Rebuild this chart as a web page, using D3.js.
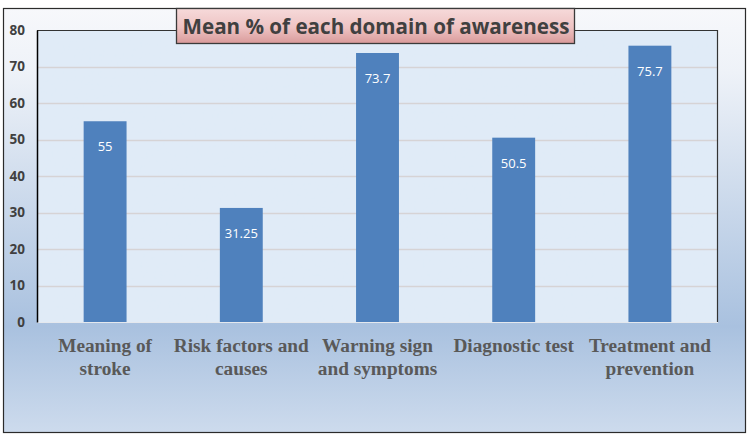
<!DOCTYPE html>
<html><head><meta charset="utf-8">
<script src="https://cdn.jsdelivr.net/npm/d3@7"></script>
<style>html,body{margin:0;padding:0;background:#fff;}svg{display:block;}</style>
</head><body>
<script>
const categories = [["Meaning of","stroke"],["Risk factors and","causes"],["Warning sign","and symptoms"],["Diagnostic test"],["Treatment and","prevention"]];
const values = [55, 31.25, 73.7, 50.5, 75.7];
const valueLabels = ["55","31.25","73.7","50.5","75.7"];
const yTicks = [0,10,20,30,40,50,60,70,80];
const title = "Mean % of each domain of awareness";

const W = 750, H = 437;
const svg = d3.select("body").append("svg").attr("width", W).attr("height", H);
const defs = svg.append("defs");

const bg = defs.append("linearGradient").attr("id","bg").attr("x1",0).attr("y1",0).attr("x2",0).attr("y2",1);
bg.append("stop").attr("offset","0%").attr("stop-color","#f7f8fb");
bg.append("stop").attr("offset","15%").attr("stop-color","#eef2f8");
bg.append("stop").attr("offset","75%").attr("stop-color","#a9c1df");
bg.append("stop").attr("offset","100%").attr("stop-color","#cddbed");

const tg = defs.append("linearGradient").attr("id","tg").attr("x1",0).attr("y1",0).attr("x2",0).attr("y2",1);
tg.append("stop").attr("offset","0%").attr("stop-color","#f6dada");
tg.append("stop").attr("offset","55%").attr("stop-color","#eec3c3");
tg.append("stop").attr("offset","100%").attr("stop-color","#d99a9a");

const flt = defs.append("filter").attr("id","tex").attr("x",0).attr("y",0).attr("width","100%").attr("height","100%");
flt.append("feTurbulence").attr("type","fractalNoise").attr("baseFrequency","0.35").attr("numOctaves",3).attr("seed",4).attr("result","n");
flt.append("feColorMatrix").attr("in","n").attr("type","matrix")
  .attr("values","0 0 0 0 0.74  0 0 0 0 0.83  0 0 0 0 0.93  0 0 0 -1.3 0.8").attr("result","c");
flt.append("feComposite").attr("in","c").attr("in2","SourceGraphic").attr("operator","atop");

// outer frame
svg.append("rect").attr("x",3.5).attr("y",8.5).attr("width",742).attr("height",424)
  .attr("fill","url(#bg)").attr("stroke","#2b2b2b").attr("stroke-width",1.2);

const plot = {l:37, t:30, r:718, b:322};
const x = d3.scaleBand().domain(d3.range(categories.length)).range([plot.l, plot.r]).paddingInner(0.685).paddingOuter(0.3425);
const y = d3.scaleLinear().domain([0,80]).range([plot.b, plot.t]);

// plot area
svg.append("rect").attr("x",plot.l).attr("y",plot.t).attr("width",plot.r-plot.l).attr("height",plot.b-plot.t)
  .attr("fill","#e0ebf7").attr("filter","url(#tex)");

// gridlines
svg.append("g").selectAll("line").data(yTicks.filter(d=>d>0 && d<80)).join("line")
  .attr("x1",plot.l).attr("x2",plot.r).attr("y1",d=>Math.round(y(d))+0.5).attr("y2",d=>Math.round(y(d))+0.5)
  .attr("stroke","#d6d3d5").attr("stroke-width",1.3);

// plot border top/right
svg.append("path").attr("d",`M${plot.l},${plot.t+0.5}H${plot.r-0.5}V${plot.b}`).attr("fill","none").attr("stroke","#333").attr("stroke-width",1.2);
svg.append("line").attr("x1",plot.l).attr("x2",plot.r).attr("y1",plot.b+0.5).attr("y2",plot.b+0.5).attr("stroke","#e4e8ee").attr("stroke-width",1);

// bars
svg.append("g").selectAll("rect").data(values).join("rect")
  .attr("x",(d,i)=>x(i)).attr("width",x.bandwidth())
  .attr("y",d=>y(d)).attr("height",d=>y(0)-y(d)).attr("fill","#4f81bd");

// value labels
svg.append("g").selectAll("text").data(values).join("text")
  .attr("x",(d,i)=>x(i)+x.bandwidth()/2).attr("y",d=>y(d)+30)
  .attr("text-anchor","middle").attr("fill","#ffffff")
  .attr("font-family","'Open Sans', sans-serif").attr("font-size",13)
  .text((d,i)=>valueLabels[i]);

// y axis
const yAxis = d3.axisLeft(y).tickValues(yTicks).tickSize(0).tickPadding(12).tickFormat(d3.format("d"));
const ya = svg.append("g").attr("transform",`translate(${plot.l},0)`).call(yAxis);
ya.select(".domain").attr("stroke","#000").attr("stroke-width",1.5);
ya.selectAll("text").attr("font-family","'Open Sans', sans-serif").attr("font-weight","bold").attr("font-size",13.5).attr("fill","#404040");

// x labels
const xl = svg.append("g").selectAll("text").data(categories).join("text")
  .attr("x",(d,i)=>x(i)+x.bandwidth()/2).attr("y",352)
  .attr("text-anchor","middle").attr("fill","#595959")
  .attr("font-family","'Liberation Serif', 'Times New Roman', serif").attr("font-weight","bold").attr("font-size",19.3);
xl.selectAll("tspan").data(d=>d).join("tspan")
  .attr("x",function(){return this.parentNode.getAttribute("x");})
  .attr("dy",(d,i)=>i===0?0:23).text(d=>d);

// title box
svg.append("rect").attr("x",176.5).attr("y",8.5).attr("width",398).attr("height",35)
  .attr("fill","url(#tg)").attr("stroke","#3a3a3a").attr("stroke-width",1.3);
svg.append("text").attr("x",376).attr("y",33.5).attr("text-anchor","middle")
  .attr("font-family","'Open Sans', sans-serif").attr("font-weight","bold").attr("font-size",20.6)
  .attr("fill","#404040").text(title);
</script>
</body></html>
